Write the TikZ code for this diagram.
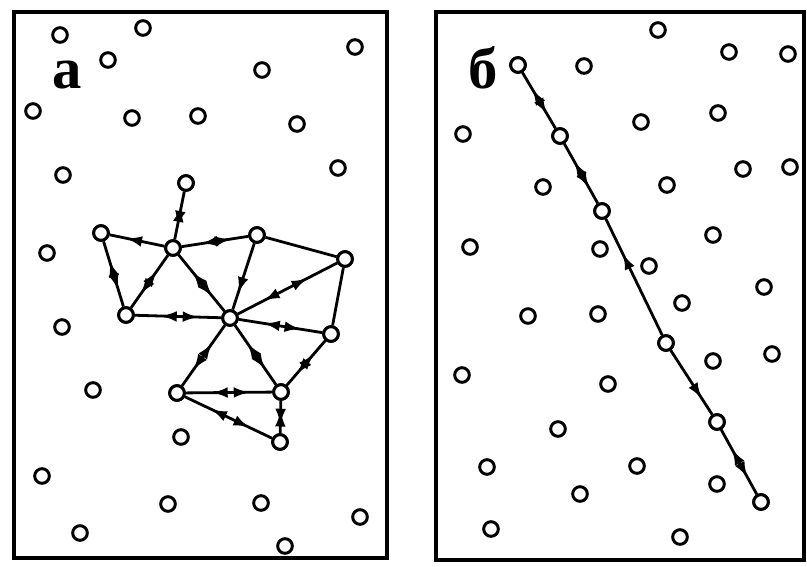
\documentclass[tikz,border=0pt]{standalone}
\usepackage{fontspec}
\setmainfont{Liberation Serif}
\usetikzlibrary{arrows.meta,decorations.markings}
\tikzset{
  pt/.style={circle,draw,line width=2.2pt,minimum size=11pt,inner sep=0pt,fill=white},
  frm/.style={line width=3pt},
  edge/.style={line width=2.1pt},
  both/.style={edge,decoration={markings,
      mark=at position 0.3 with {\arrowreversed{Latex[length=12pt,width=8pt]}},
      mark=at position 0.74 with {\arrow{Latex[length=12pt,width=8pt]}}},postaction=decorate},
  tostart/.style={edge,decoration={markings,
      mark=at position 0.3 with {\arrowreversed{Latex[length=12pt,width=8pt]}}},postaction=decorate},
  toend/.style={edge,decoration={markings,
      mark=at position 0.75 with {\arrow{Latex[length=12pt,width=8pt]}}},postaction=decorate},
  lbl/.style={font=\bfseries\fontsize{44}{44}\selectfont,anchor=base,inner sep=0pt},
}
\begin{document}
\begin{tikzpicture}[x=0.75pt,y=-0.75pt]
\useasboundingbox (0,0) rectangle (807,567);
% frames
\draw[frm] (14,12) rectangle (387,558);
\draw[frm] (436,12) rectangle (804,560);
% labels
\node[lbl] (la) at (67,89) {a};
\node[lbl] (lb) at (483,89) {б};
% ---------- panel a : free points
\foreach \n/\x/\y in {a1/60/35,a2/143/28,a3/108/60,a4/262/70,a5/355/47,a6/33/111,a7/132/118,
  a8/198/116,a9/297/124,a10/63/175,a11/338/168,a12/47/253,a13/62/327,a14/93/390,a15/181/437,
  a16/42/476,a17/168/504,a18/261/503,a19/360/517,a20/80/533,a21/285/546}
  {\node[pt] (\n) at (\x,\y) {};}
% ---------- panel a : network
\node[pt] (T) at (186,183) {};
\node[pt] (A) at (101,233) {};
\node[pt] (B) at (173,248) {};
\node[pt] (C) at (257,235) {};
\node[pt] (D) at (345,259) {};
\node[pt] (E) at (126,315) {};
\node[pt] (O) at (230,318) {};
\node[pt] (F) at (331,334) {};
\node[pt] (G) at (177,393) {};
\node[pt] (H) at (281,392) {};
\node[pt] (I) at (280,442) {};
\draw[both] (T) -- (B);
\draw[tostart] (A) -- (B);
\draw[both] (B) -- (C);
\draw[edge] (C) -- (D);
\draw[both] (A) -- (E);
\draw[both] (B) -- (E);
\draw[both] (B) -- (O);
\draw[toend] (C) -- (O);
\draw[both] (D) -- (O);
\draw[edge] (D) -- (F);
\draw[both] (E) -- (O);
\draw[both] (O) -- (F);
\draw[both] (O) -- (G);
\draw[both] (O) -- (H);
\draw[both] (F) -- (H);
\draw[both] (G) -- (H);
\draw[both] (G) -- (I);
\draw[both] (H) -- (I);
% redraw network circles on top of edges
\foreach \n in {T,A,B,C,D,E,O,F,G,H,I} {\node[pt] at (\n) {};}
% ---------- panel b : free points
\foreach \n/\x/\y in {b1/658/30,b2/729/52,b3/788/54,b4/584/66,b5/463/134,b6/641/122,b7/718/113,
  b8/743/169,b9/790/167,b10/543/187,b11/667/185,b12/713/235,b13/470/247,b14/600/249,b15/649/266,
  b16/764/287,b17/682/303,b18/528/316,b19/598/314,b20/713/361,b21/772/354,b22/462/375,
  b23/608/384,b24/558/429,b25/487/467,b26/637/466,b27/717/484,b28/580/494,b29/491/529,b30/680/537}
  {\node[pt] (\n) at (\x,\y) {};}
% ---------- panel b : chain
\node[pt] (c1) at (518,65) {};
\node[pt] (c2) at (560,136) {};
\node[pt] (c3) at (602,211) {};
\node[pt] (c4) at (666,343) {};
\node[pt] (c5) at (717,422) {};
\node[pt] (c6) at (761,502) {};
\draw[both] (c1) -- (c2);
\draw[both] (c2) -- (c3);
\draw[tostart] (c3) -- (c4);
\draw[toend] (c4) -- (c5);
\draw[both] (c5) -- (c6);
\foreach \n in {c1,c2,c3,c4,c5,c6} {\node[pt] at (\n) {};}
\end{tikzpicture}
\end{document}
